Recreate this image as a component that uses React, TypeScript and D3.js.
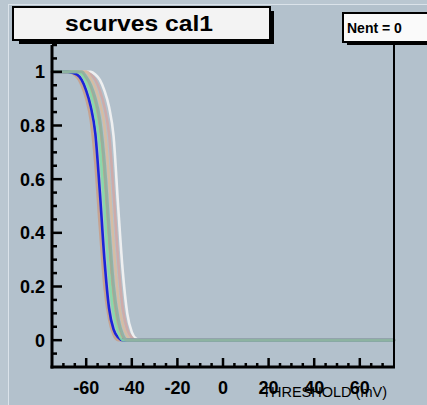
import React from "react";
import * as d3 from "d3";

// threshold grid (mV) shared by all s-curves
const thresholds = [-75, -68, -64, -62, -60, -58, -56, -54, -52, -50, -48, -46, -44, -42, -40, -38, -36, -34, 75];

// efficiency, one array per channel
const chTanLeft = [1, 1, 0.98, 0.95, 0.9, 0.82, 0.66, 0.42, 0.2, 0.08, 0.02, 0, 0, 0, 0, 0, 0, 0, 0];
const chWhite = [1, 1, 1, 1, 1, 1, 0.99, 0.97, 0.93, 0.87, 0.76, 0.5, 0.26, 0.1, 0.03, 0.005, 0, 0, 0];
const chPink = [1, 1, 1, 1, 1, 0.99, 0.97, 0.93, 0.87, 0.77, 0.55, 0.3, 0.12, 0.04, 0.01, 0, 0, 0, 0];
const chBeige = [1, 1, 1, 1, 1, 0.975, 0.94, 0.885, 0.8, 0.6, 0.36, 0.16, 0.06, 0.015, 0, 0, 0, 0, 0];
const chTanMid = [1, 1, 1, 0.995, 0.97, 0.935, 0.88, 0.79, 0.6, 0.36, 0.16, 0.05, 0.01, 0, 0, 0, 0, 0, 0];
const chBlue = [1, 1, 0.99, 0.97, 0.93, 0.87, 0.77, 0.55, 0.3, 0.12, 0.04, 0.01, 0, 0, 0, 0, 0, 0, 0];
const chLightGreen = [1, 1, 1, 0.99, 0.96, 0.915, 0.845, 0.72, 0.49, 0.25, 0.1, 0.03, 0, 0, 0, 0, 0, 0, 0];
const chGrayGreen = [1, 1, 1, 1, 0.98, 0.95, 0.9, 0.82, 0.66, 0.42, 0.2, 0.08, 0.02, 0, 0, 0, 0, 0, 0];

const series = [chWhite, chPink, chBeige, chTanMid, chTanLeft, chBlue, chLightGreen, chGrayGreen];
const seriesColors = ["#f4f4f4", "#cfa9a6", "#d8bca0", "#c4a488", "#c6a08c", "#1c24d8", "#86dca6", "#8fb0a0"];

const xMajor = [-60, -40, -20, 0, 20, 40, 60];
const xMajorLabels = ["-60", "-40", "-20", "0", "20", "40", "60"];
const yMajor = [0, 0.2, 0.4, 0.6, 0.8, 1];
const yMajorLabels = ["0", "0.2", "0.4", "0.6", "0.8", "1"];

const W = 427;
const H = 405;

export default function App() {
  const x = d3.scaleLinear().domain([-75, 75]).range([52, 394]);
  const y = d3.scaleLinear().domain([-0.1, 1.1]).range([367, 45]);

  const line = d3
    .line<number>()
    .x((_, i) => x(thresholds[i]))
    .y((d) => y(d))
    .curve(d3.curveMonotoneX);

  const xMinor = d3.range(-70, 71, 5).filter((v) => !xMajor.includes(v));
  const yMinor = d3.range(-0.05, 1.11, 0.05).filter((v) => !yMajor.some((m) => Math.abs(m - v) < 1e-6));

  const font = "'Liberation Sans', Arial, Helvetica, sans-serif";

  return (
    <svg
      width={W}
      height={H}
      style={{ position: "absolute", left: 0, top: 0 }}
      fontFamily={font}
    >
      <rect x={0} y={0} width={W} height={H} fill="#bac7d1" />
      <rect x={8} y={4} width={W - 8} height={H - 4} fill="#b3c1cc" />
      <line x1={8.5} x2={8.5} y1={4} y2={H} stroke="#dbe3ea" strokeWidth={1} />
      <line x1={8} x2={W} y1={4.5} y2={4.5} stroke="#dbe3ea" strokeWidth={1} />

      {/* curves */}
      <g fill="none" strokeLinejoin="round" strokeLinecap="round">
        {series.map((s, i) => (
          <path
            key={i}
            d={line(s) ?? ""}
            stroke={seriesColors[i]}
            strokeWidth={i === series.length - 1 ? 3 : 2.6}
            strokeOpacity={i === 5 ? 1 : 0.9}
          />
        ))}
      </g>

      {/* frame */}
      <line x1={394} x2={394} y1={43} y2={368} stroke="#000" strokeWidth={2} />
      <line x1={52} x2={52} y1={45} y2={368.5} stroke="#000" strokeWidth={3} />
      <line x1={50.5} x2={395} y1={367} y2={367} stroke="#000" strokeWidth={3} />

      {/* ticks */}
      <g stroke="#000">
        {xMajor.map((v) => (
          <line key={v} x1={x(v)} x2={x(v)} y1={367} y2={358} strokeWidth={2.5} />
        ))}
        {xMinor.map((v) => (
          <line key={v} x1={x(v)} x2={x(v)} y1={367} y2={363} strokeWidth={2.5} />
        ))}
        {yMajor.map((v) => (
          <line key={v} x1={52} x2={62} y1={y(v)} y2={y(v)} strokeWidth={2.5} />
        ))}
        {yMinor.map((v) => (
          <line key={v} x1={52} x2={57} y1={y(v)} y2={y(v)} strokeWidth={2.5} />
        ))}
      </g>

      <g fontWeight="bold" fontSize={18} fill="#000">
        {xMajor.map((v, i) => (
          <text key={v} x={x(v)} y={394} textAnchor="middle">
            {xMajorLabels[i]}
          </text>
        ))}
        {yMajor.map((v, i) => (
          <text key={v} x={45} y={y(v) + 6.5} textAnchor="end">
            {yMajorLabels[i]}
          </text>
        ))}
      </g>

      <text x={387} y={397} textAnchor="end" fontSize={14.5} fill="#000">
        THRESHOLD (mV)
      </text>

      {/* title box */}
      <rect x={19} y={11} width={255} height={33} fill="#000" />
      <rect x={13} y={7} width={257} height={33} fill="#f3f3f3" stroke="#000" strokeWidth={2} />
      <text
        x={139}
        y={31}
        textAnchor="middle"
        fontWeight="bold"
        fontSize={22}
        textLength={148}
        lengthAdjust="spacingAndGlyphs"
      >
        scurves cal1
      </text>

      {/* stats box */}
      <rect x={347} y={16} width={90} height={29} fill="#000" />
      <rect x={343} y={13} width={90} height={29} fill="#fafafa" stroke="#000" strokeWidth={2} />
      <text x={347} y={33} fontWeight="bold" fontSize={14}>
        Nent = 0
      </text>
    </svg>
  );
}
